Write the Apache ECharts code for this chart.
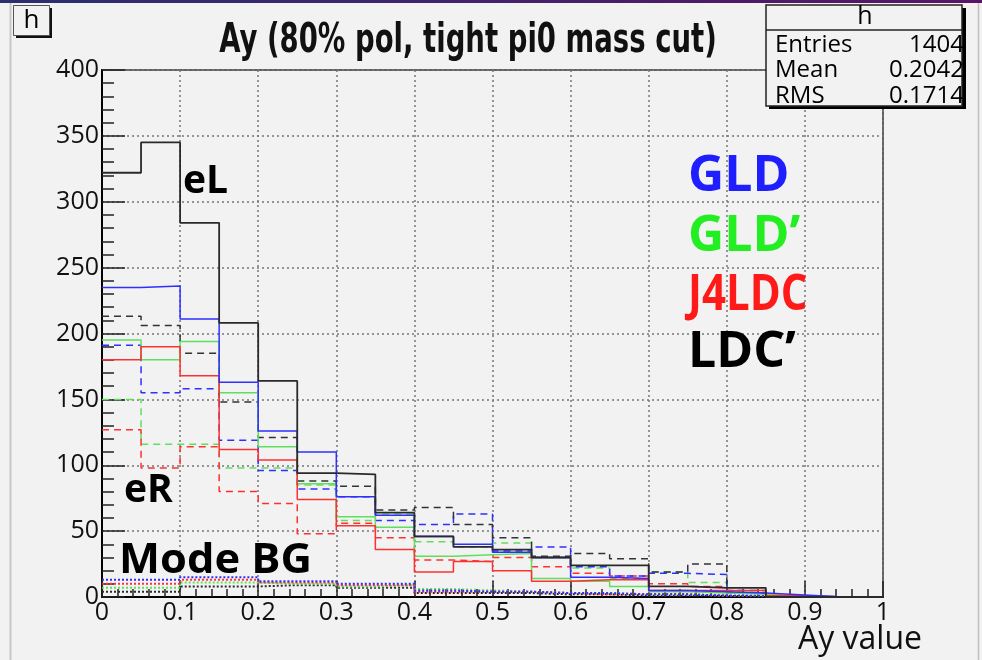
<!DOCTYPE html>
<html>
<head>
<meta charset="utf-8">
<script src="https://cdn.jsdelivr.net/npm/echarts@6/dist/echarts.min.js"></script>
<style>
  html, body { margin: 0; padding: 0; background: #f2f2f2; }
  #chart { width: 982px; height: 660px; }
</style>
</head>
<body>
<div id="chart"></div>
<script>
// Left edges of the 20 Ay bins (width 0.05), plus the closing edge at 1.0
const binEdges = [0, 0.05, 0.1, 0.15, 0.2, 0.25, 0.3, 0.35, 0.4, 0.45,
                  0.5, 0.55, 0.6, 0.65, 0.7, 0.75, 0.8, 0.85, 0.9, 0.95, 1.0];

// eL (solid lines)
const gldL  = [235, 236, 211, 163, 126, 110, 76, 62, 46, 40, 34, 30, 15, 14, 5, 4, 3, 1.5, 0, 0];
const gld2L = [195, 180, 194, 155, 114, 86, 61, 53, 31, 32, 33, 14, 12, 8, 4, 3, 2, 1, 0, 0];
const j4L   = [180, 190, 168, 112, 104, 74, 54, 36, 19, 27, 20, 12, 13, 13, 5, 5, 5, 1, 0, 0];
const ldcL  = [322, 345, 284, 208, 164, 94, 93, 64, 46, 38, 36, 30, 24, 24, 8, 7, 7, 0, 0, 0];

// eR (dashed lines)
const gldR  = [191, 155, 158, 119, 96, 82, 76, 58, 55, 63, 35, 38, 23, 16, 18, 17, 3, 1, 0, 0];
const gld2R = [150, 116, 116, 98, 98, 85, 58, 63, 42, 38, 41, 30, 22, 14, 19, 11, 3, 1, 0, 0];
const j4R   = [127, 98, 114, 80, 71, 48, 56, 45, 28, 27, 30, 23, 18, 16, 10, 8, 3, 1, 0, 0];
const ldcR  = [213, 206, 185, 148, 121, 88, 84, 66, 68, 55, 45, 31, 33, 29, 19, 25, 5, 0, 0, 0];

// Mode BG (dotted lines)
const gldBG  = [13, 13, 15, 15, 12, 12, 10, 10, 5, 4, 4, 3, 3, 2, 2, 1, 1, 0, 0, 0];
const gld2BG = [7, 7, 11, 11, 10, 10, 8, 9, 6, 5, 4, 3, 3, 2, 2, 1, 1, 0, 0, 0];
const j4BG   = [10, 10, 13, 13, 11, 11, 9, 9, 4, 4, 4, 3, 2, 2, 2, 1, 1, 0, 0, 0];
const ldcBG  = [4, 4, 8, 8, 9, 9, 7, 7, 3, 3, 3, 2, 2, 1, 1, 1, 0, 0, 0, 0];

const yTicks = [0, 50, 100, 150, 200, 250, 300, 350, 400];

const statRows = [['Entries', '1404'], ['Mean', '0.2042'], ['RMS', '0.1714']];

const COL = { gld: '#2f2fff', gld2: '#5ee05e', j4: '#ff3030', ldc: '#2a2a2a' };

// histogram outline: one point per left bin edge, repeated at the last edge
function histData(vals) {
  const pts = vals.map((v, i) => [binEdges[i], v]);
  pts.push([binEdges[vals.length], vals[vals.length - 1]]);
  return pts;
}

function hist(name, vals, color, type, width, z) {
  return {
    name, type: 'line', step: 'end', data: histData(vals),
    symbol: 'none', silent: true, z,
    lineStyle: { color, type, width, cap: 'butt' }
  };
}

const DASH = [7, 5];
const DOT = [2, 2];

const font = '"Open Sans", "Noto Sans", sans-serif';
const condFont = '"DejaVu Sans Condensed", "Liberation Sans Narrow", "Open Sans", sans-serif';

const chart = echarts.init(document.getElementById('chart'), null, { renderer: 'canvas' });

function label(text, x, y, size, fill, sx) {
  return { type: 'text', x, y, scaleX: sx || 1, z: 52,
    style: { text, font: 'bold ' + size + 'px ' + font, fill, verticalAlign: 'middle' } };
}

chart.setOption({
  backgroundColor: '#f2f2f2',
  animation: false,
  grid: {
    left: 102, right: 99, top: 70, bottom: 63,
    show: true, borderColor: '#333', borderWidth: 1.5, backgroundColor: 'transparent'
  },
  xAxis: {
    type: 'value', min: 0, max: 1, interval: 0.1,
    axisLine: { show: true, onZero: false, lineStyle: { color: '#000', width: 2 } },
    axisTick: { show: true, inside: true, length: 16, lineStyle: { color: '#222', width: 1.5 } },
    minorTick: { show: true, splitNumber: 5, length: 8, lineStyle: { color: '#222', width: 1.5 } },
    axisLabel: {
      color: '#111', fontFamily: font, fontSize: 25, margin: 3,
      formatter: v => String(Math.round(v * 10) / 10)
    },
    splitLine: { show: true, lineStyle: { color: '#777', type: [2, 3], width: 1.5 } }
  },
  yAxis: {
    type: 'value', min: yTicks[0], max: yTicks[yTicks.length - 1], interval: 50,
    axisLine: { show: true, onZero: false, lineStyle: { color: '#000', width: 2 } },
    axisTick: { show: true, inside: true, length: 23, lineStyle: { color: '#222', width: 1.5 } },
    minorTick: { show: true, splitNumber: 5, length: 12, lineStyle: { color: '#222', width: 1.5 } },
    axisLabel: { color: '#111', fontFamily: font, fontSize: 25, margin: 3 },
    splitLine: { show: true, lineStyle: { color: '#777', type: [2, 3], width: 1.5 } }
  },
  series: [
    hist('LDC\u2019 BG', ldcBG, COL.ldc, DOT, 2, 2),
    hist('GLD\u2019 BG', gld2BG, COL.gld2, DOT, 2, 2),
    hist('J4LDC BG', j4BG, COL.j4, DOT, 2, 2),
    hist('GLD BG', gldBG, COL.gld, DOT, 2, 2),
    hist('GLD\u2019 eR', gld2R, COL.gld2, DASH, 1.5, 3),
    hist('J4LDC eR', j4R, COL.j4, DASH, 1.5, 3),
    hist('GLD eR', gldR, COL.gld, DASH, 1.5, 3),
    hist('LDC\u2019 eR', ldcR, '#333', DASH, 1.5, 3),
    hist('GLD\u2019 eL', gld2L, COL.gld2, 'solid', 1.5, 4),
    hist('J4LDC eL', j4L, COL.j4, 'solid', 1.5, 4),
    hist('GLD eL', gldL, COL.gld, 'solid', 1.5, 4),
    hist('LDC\u2019 eL', ldcL, COL.ldc, 'solid', 1.8, 5)
  ],
  graphic: [
    // window edges
    { type: 'rect', shape: { x: 0, y: 0, width: 982, height: 3 },
      style: { fill: new echarts.graphic.LinearGradient(0, 0, 1, 0, [
        { offset: 0, color: '#2c2f6e' }, { offset: 1, color: '#5a1466' }]) }, z: 50 },
    { type: 'line', shape: { x1: 10.5, y1: 3, x2: 10.5, y2: 660 },
      style: { stroke: '#c8c8c8', lineWidth: 2 }, z: 50 },
    { type: 'line', shape: { x1: 978.5, y1: 3, x2: 978.5, y2: 660 },
      style: { stroke: '#c0c0c0', lineWidth: 1.5 }, z: 50 },

    // pad label box
    { type: 'rect', shape: { x: 16, y: 8, width: 36, height: 30 },
      style: { fill: '#111' }, z: 50 },
    { type: 'rect', shape: { x: 13.5, y: 5.5, width: 36, height: 30 },
      style: { fill: '#f2f2f2', stroke: '#555', lineWidth: 1 }, z: 51 },
    { type: 'text', x: 31.5, y: 20.5,
      style: { text: 'h', font: '26px ' + font, fill: '#000', align: 'center', verticalAlign: 'middle' }, z: 52 },

    // title
    { type: 'text', x: 468, y: 41, scaleX: 1.02, scaleY: 1.35,
      style: { text: 'Ay (80% pol, tight pi0 mass cut)', font: 'bold 30px ' + condFont,
               fill: '#111', align: 'center', verticalAlign: 'middle' }, z: 52 },

    // statistics box
    { type: 'rect', shape: { x: 769, y: 8, width: 197, height: 101 },
      style: { fill: '#000' }, z: 50 },
    { type: 'rect', shape: { x: 766, y: 5, width: 196, height: 101 },
      style: { fill: '#f2f2f2', stroke: '#222', lineWidth: 1.5 }, z: 51 },
    { type: 'line', shape: { x1: 766, y1: 30, x2: 962, y2: 30 },
      style: { stroke: '#222', lineWidth: 1.5 }, z: 52 },
    { type: 'text', x: 865, y: 17,
      style: { text: 'h', font: '25px ' + font, fill: '#000', align: 'center', verticalAlign: 'middle' }, z: 52 },
    ...statRows.flatMap((r, i) => [
      { type: 'text', x: 775, y: 45 + i * 25.5,
        style: { text: r[0], font: '24px ' + font, fill: '#000', align: 'left', verticalAlign: 'middle' }, z: 52 },
      { type: 'text', x: 964, y: 45 + i * 25.5,
        style: { text: r[1], font: '24px ' + font, fill: '#000', align: 'right', verticalAlign: 'middle' }, z: 52 }
    ]),

    // curve annotations
    label('eL', 183, 182, 39, '#000'),
    label('eR', 124, 491, 39, '#000'),
    label('Mode BG', 119, 561, 41, '#000', 1.06),

    // detector legend
    label('GLD', 688, 177, 50, '#1e1eff'),
    label('GLD\u2019', 688, 237, 50, '#22ee22'),
    label('J4LDC', 688, 296, 50, '#ff1a1a', 0.84),
    label('LDC\u2019', 688, 353, 50, '#000'),

    // axis title
    { type: 'text', x: 922, y: 640,
      style: { text: 'Ay value', font: '32px ' + font, fill: '#111', align: 'right', verticalAlign: 'middle' }, z: 52 }
  ]
});
</script>
</body>
</html>
